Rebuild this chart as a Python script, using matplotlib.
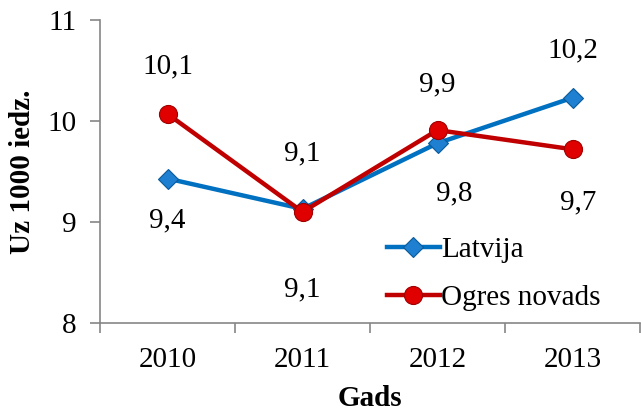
import matplotlib
matplotlib.use("Agg")
import matplotlib.pyplot as plt
import numpy as np

years = ["2010", "2011", "2012", "2013"]
latvija = [9.43, 9.13, 9.78, 10.23]
ogres = [10.07, 9.10, 9.91, 9.72]
latvija_labels = ["9,4", "9,1", "9,8", "10,2"]
ogres_labels = ["10,1", "9,1", "9,9", "9,7"]
y_ticks = [8, 9, 10, 11]

plt.rcParams['font.family'] = ['Liberation Serif', 'DejaVu Serif']

fig = plt.figure(figsize=(6.41, 4.11), dpi=100)
ax = fig.add_axes([100/641, 1-323/411, 540/641, 303/411])

x = np.arange(len(years))
blue = "#0070C0"
red = "#C00000"
ax.plot(x, latvija, color=blue, lw=3.2, marker="D", ms=10, mfc="#1f7fd0",
        mec="#0a5a9a", mew=0.8, label="Latvija", zorder=3)
ax.plot(x, ogres, color=red, lw=3.2, marker="o", ms=13, mfc="#e00000",
        mec="#a00000", mew=0.8, label="Ogres novads", zorder=4)

fs = 21
# label offsets in points (dx, dy)
lat_off = [(0, -30), (0, 40), (12, -36), (0, 34)]
og_off = [(0, 34), (0, -56), (0, 33), (4, -38)]
for i in range(len(years)):
    ax.annotate(latvija_labels[i], (x[i], latvija[i]), xytext=lat_off[i],
                textcoords="offset points", ha="center", va="center", fontsize=fs)
    ax.annotate(ogres_labels[i], (x[i], ogres[i]), xytext=og_off[i],
                textcoords="offset points", ha="center", va="center", fontsize=fs)

ax.set_xlim(-0.5, 3.5)
ax.set_ylim(8, 11)
ax.set_yticks(y_ticks)
ax.set_yticklabels([str(t) for t in y_ticks], fontsize=fs)
ax.set_xticks(x)
ax.set_xticklabels(years, fontsize=fs)
ax.set_xticks(np.arange(-0.5, 4.0, 1.0), minor=True)
ax.tick_params(axis="x", which="major", length=0, pad=17)
ax.tick_params(axis="x", which="minor", length=7, color="#868686", width=1.2)
ax.tick_params(axis="y", length=7, color="#868686", width=1.2, pad=10)

for s in ["top", "right"]:
    ax.spines[s].set_visible(False)
for s in ["left", "bottom"]:
    ax.spines[s].set_color("#868686")
    ax.spines[s].set_linewidth(1.2)

ax.set_ylabel("Uz 1000 iedz.", fontsize=21, fontweight="bold", labelpad=8)
ax.set_xlabel("Gads", fontsize=21, fontweight="bold", labelpad=9)

leg = ax.legend(loc="lower left", bbox_to_anchor=(0.51, 0.0), frameon=False,
                fontsize=fs, handlelength=1.8, handletextpad=0.05, labelspacing=0.75,
                borderaxespad=0)

fig.savefig("out.png", dpi=100)
